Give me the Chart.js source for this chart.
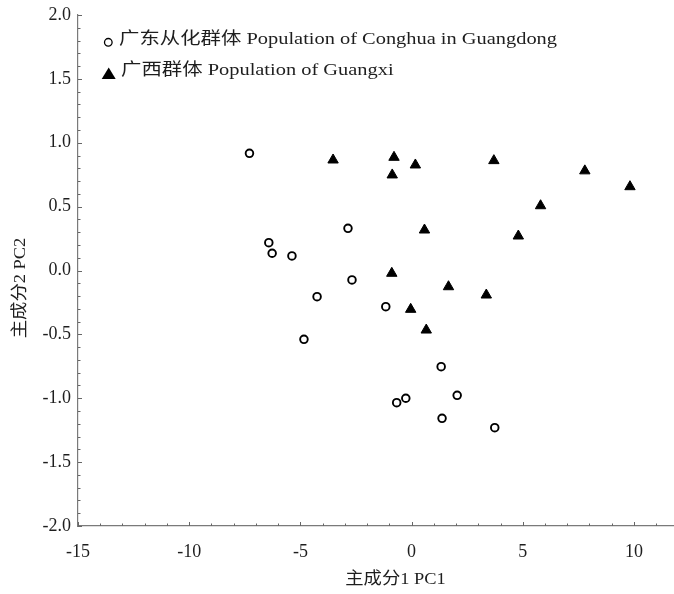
<!DOCTYPE html>
<html>
<head>
<meta charset="utf-8">
<script src="https://cdn.jsdelivr.net/npm/chart.js@4.4.1/dist/chart.umd.min.js"></script>
<style>
html,body{margin:0;padding:0;background:#fff;}
#wrap{width:674px;height:594px;}
</style>
</head>
<body>
<div id="wrap"><canvas id="c" width="674" height="594"></canvas></div>
<script>
// ---- data ----
const seriesNames = ['广东从化群体 Population of Conghua in Guangdong', '广西群体 Population of Guangxi'];
const conghuaPC1 = [-7.29, -6.42, -6.27, -5.38, -2.86, -2.68, -4.25, -1.16, -4.84, 1.33, -0.67, -0.26, 2.05, 1.37, 3.74];
const conghuaPC2 = [0.917, 0.218, 0.135, 0.114, 0.33, -0.074, -0.205, -0.283, -0.539, -0.753, -1.035, -1.0, -0.977, -1.157, -1.23];
const guangxiPC1 = [-3.53, -0.79, -0.87, 0.17, 3.70, 7.79, 9.82, 5.80, 0.58, 4.80, -0.89, 1.66, 3.36, -0.04, 0.66];
const guangxiPC2 = [0.865, 0.886, 0.748, 0.826, 0.86, 0.78, 0.656, 0.507, 0.317, 0.27, -0.022, -0.127, -0.192, -0.304, -0.466];
const xTickValues = [-15, -10, -5, 0, 5, 10];
const yTickValues = [-2, -1.5, -1, -0.5, 0, 0.5, 1, 1.5, 2];
const xTitle = '主成分1 PC1';
const yTitle = '主成分2 PC2';

const SERIF = '"Liberation Serif", "Noto Sans CJK SC", serif';
const TEXT = '#1e1e1e';

function stretchedText(ctx, txt, x, y, sx, rot) {
  ctx.save();
  ctx.translate(x, y);
  if (rot) ctx.rotate(rot);
  ctx.scale(sx, 1);
  ctx.fillText(txt, 0, 0);
  ctx.restore();
}

const decor = {
  id: 'decor',
  afterDraw(chart) {
    const ctx = chart.ctx;
    const xs = chart.scales.x, ys = chart.scales.y, ca = chart.chartArea;
    // minor / major inward ticks
    ctx.save();
    ctx.strokeStyle = '#666';
    ctx.lineWidth = 1;
    ctx.beginPath();
    for (let v = Math.ceil(xs.min); v <= Math.floor(xs.max); v++) {
      const px = Math.round(xs.getPixelForValue(v)) + 0.5;
      const len = (v % 5 === 0) ? 4 : 2.5;
      ctx.moveTo(px, ca.bottom);
      ctx.lineTo(px, ca.bottom - len);
    }
    for (let k = Math.round(ys.min * 10); k <= Math.round(ys.max * 10); k++) {
      const py = Math.round(ys.getPixelForValue(k / 10)) + 0.5;
      const len = (k % 5 === 0) ? 4 : 2.5;
      ctx.moveTo(ca.left, py);
      ctx.lineTo(ca.left + len, py);
    }
    ctx.stroke();
    ctx.restore();

    // legend
    ctx.save();
    const ds = chart.data.datasets;
    ctx.fillStyle = TEXT;
    ctx.textAlign = 'left';
    ctx.textBaseline = 'middle';
    ctx.font = '17px ' + SERIF;
    // circle marker
    ctx.beginPath();
    ctx.arc(108.3, 42.3, 3.8, 0, Math.PI * 2);
    ctx.lineWidth = 1.3;
    ctx.strokeStyle = '#000';
    ctx.stroke();
    stretchedText(ctx, ds[0].label, 119, 40, 1.2, 0);
    // triangle marker
    ctx.beginPath();
    ctx.moveTo(108.7, 67.5);
    ctx.lineTo(115.7, 79);
    ctx.lineTo(101.7, 79);
    ctx.closePath();
    ctx.fillStyle = '#000';
    ctx.fill();
    ctx.fillStyle = TEXT;
    stretchedText(ctx, ds[1].label, 121, 71, 1.2, 0);

    // axis titles
    ctx.textAlign = 'center';
    ctx.font = '17px ' + SERIF;
    stretchedText(ctx, xTitle, 395.5, 579.5, 1.08, 0);
    stretchedText(ctx, yTitle, 21, 288, 1.08, -Math.PI / 2);
    ctx.restore();
  }
};

const ctx = document.getElementById('c').getContext('2d');
new Chart(ctx, {
  type: 'scatter',
  data: {
    datasets: [
      {
        label: seriesNames[0],
        data: conghuaPC1.map((x, i) => ({ x: x, y: conghuaPC2[i] })),
        pointStyle: 'circle',
        pointRadius: 3.8,
        pointBorderWidth: 1.9,
        pointBorderColor: '#000',
        pointBackgroundColor: '#fff'
      },
      {
        label: seriesNames[1],
        data: guangxiPC1.map((x, i) => ({ x: x, y: guangxiPC2[i] })),
        pointStyle: 'triangle',
        pointRadius: 6,
        pointBorderWidth: 1,
        pointBorderColor: '#000',
        pointBackgroundColor: '#000'
      }
    ]
  },
  options: {
    responsive: false,
    animation: false,
    devicePixelRatio: 1,
    layout: { autoPadding: false, padding: { top: 15, right: 0, bottom: 0, left: 0 } },
    plugins: { legend: { display: false }, tooltip: { enabled: false } },
    scales: {
      x: {
        type: 'linear',
        min: -15,
        max: 11.8,
        afterBuildTicks: s => { s.ticks = xTickValues.map(v => ({ value: v })); },
        afterFit: s => { s.height = 68; s.paddingLeft = 0; s.paddingRight = 0; },
        grid: { display: false, drawTicks: false },
        border: { display: true, color: '#7a7a7a', width: 1.2 },
        ticks: {
          autoSkip: false, maxRotation: 0, padding: 15, color: TEXT,
          font: { family: SERIF, size: 18 },
          callback: v => String(v)
        }
      },
      y: {
        type: 'linear',
        min: -2,
        max: 2,
        afterBuildTicks: s => { s.ticks = yTickValues.map(v => ({ value: v })); },
        afterFit: s => { s.width = 78; s.paddingTop = 0; s.paddingBottom = 0; },
        grid: { display: false, drawTicks: false },
        border: { display: true, color: '#7a7a7a', width: 1.2 },
        ticks: {
          autoSkip: false, padding: 7, color: TEXT,
          font: { family: SERIF, size: 18 },
          callback: v => Number(v).toFixed(1)
        }
      }
    }
  },
  plugins: [decor]
});
</script>
</body>
</html>
